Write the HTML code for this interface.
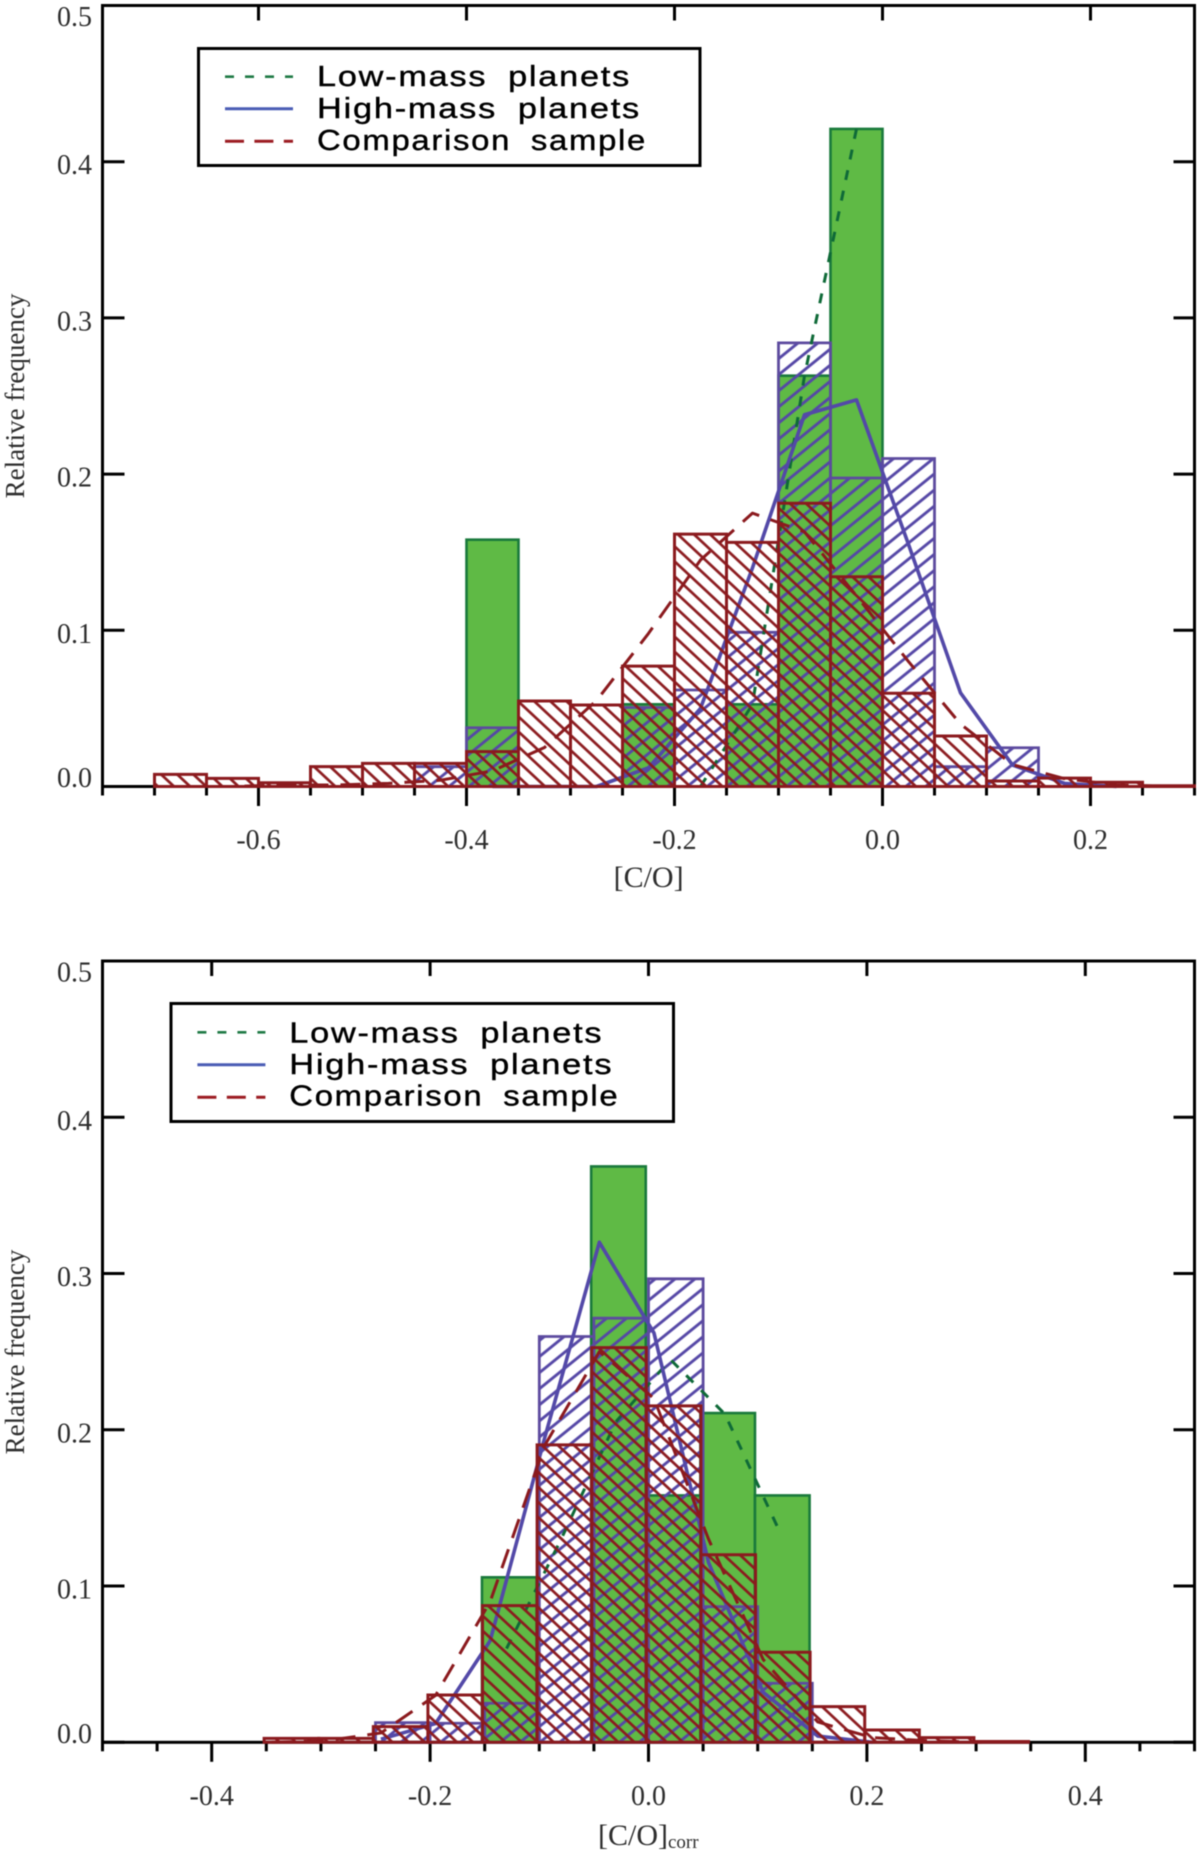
<!DOCTYPE html>
<html lang="en">
<head>
<meta charset="utf-8">
<title>C/O histograms</title>
<style>
  html, body { margin: 0; padding: 0; background: #fff; }
  #figure { display: block; width: 1200px; height: 1852px; filter: blur(0.55px); }
  .tick-text { font-family: "Liberation Serif", serif; font-size: 28px; fill: #2e2e2e; }
  .axis-title { font-family: "Liberation Serif", serif; font-size: 30px; fill: #2e2e2e; }
  .legend-text { font-family: "Liberation Sans", sans-serif; font-size: 29px; fill: #000; stroke: #000; stroke-width: 0.4px; letter-spacing: 1.5px; word-spacing: 8px; }
</style>
</head>
<body>
<svg id="figure" xmlns="http://www.w3.org/2000/svg" width="1200" height="1852" viewBox="0 0 1200 1852">
  <defs>
    <pattern id="hatch-red" patternUnits="userSpaceOnUse" width="11" height="11" patternTransform="rotate(43)">
      <line x1="0" y1="5.5" x2="11" y2="5.5" stroke="#8b1a1e" stroke-width="2.7"></line>
    </pattern>
    <pattern id="hatch-blue" patternUnits="userSpaceOnUse" width="12.5" height="12.5" patternTransform="rotate(-39)">
      <line x1="0" y1="6.25" x2="12.5" y2="6.25" stroke="#5547a6" stroke-width="2.9"></line>
    </pattern>
  </defs>
  <rect x="0" y="0" width="1200" height="1852" fill="#fff"></rect>

  <g id="panel-top"></g>
  <g id="panel-bottom"></g>

  <g>
    <rect x="198.5" y="48.5" width="501.5" height="117" fill="#fff" stroke="#000" stroke-width="3"></rect>
    <line x1="225" x2="293" y1="76.7" y2="76.7" stroke="#1f7a45" stroke-width="2.6" stroke-dasharray="9 11"></line>
    <line x1="225" x2="293" y1="108.7" y2="108.7" stroke="#4a5cb5" stroke-width="3"></line>
    <line x1="225" x2="293" y1="141.3" y2="141.3" stroke="#9c1c22" stroke-width="3" stroke-dasharray="19 10.4"></line>
    <text class="legend-text" x="317" y="86" textLength="314" lengthAdjust="spacingAndGlyphs">Low-mass planets</text>
    <text class="legend-text" x="317" y="118" textLength="324" lengthAdjust="spacingAndGlyphs">High-mass planets</text>
    <text class="legend-text" x="317" y="150" textLength="330" lengthAdjust="spacingAndGlyphs">Comparison sample</text>
  </g>

  <g>
    <rect x="171" y="1003.5" width="502.5" height="118" fill="#fff" stroke="#000" stroke-width="3"></rect>
    <line x1="197.4" x2="265.4" y1="1032.3" y2="1032.3" stroke="#1f7a45" stroke-width="2.6" stroke-dasharray="9 11"></line>
    <line x1="197.4" x2="265.4" y1="1064.7" y2="1064.7" stroke="#4a5cb5" stroke-width="3"></line>
    <line x1="197.4" x2="265.4" y1="1097.3" y2="1097.3" stroke="#9c1c22" stroke-width="3" stroke-dasharray="19 10.4"></line>
    <text class="legend-text" x="289.3" y="1042.3" textLength="314" lengthAdjust="spacingAndGlyphs">Low-mass planets</text>
    <text class="legend-text" x="289.3" y="1074" textLength="324" lengthAdjust="spacingAndGlyphs">High-mass planets</text>
    <text class="legend-text" x="289.3" y="1105.7" textLength="330" lengthAdjust="spacingAndGlyphs">Comparison sample</text>
  </g>

  <text class="axis-title" x="648.6" y="887" text-anchor="middle">[C/O]</text>
  <text class="axis-title" transform="translate(24,396) rotate(-90)" text-anchor="middle" style="font-size:27px">Relative frequency</text>
  <text class="axis-title" x="598" y="1845">[C/O]<tspan font-size="19" dy="3">corr</tspan></text>
  <text class="axis-title" transform="translate(24,1352) rotate(-90)" text-anchor="middle" style="font-size:27px">Relative frequency</text>
</svg>

<script>
// ---- shared axis data ----
const yTickValues = [0, 0.1, 0.2, 0.3, 0.4, 0.5];
const yTickLabels = ['0.0', '0.1', '0.2', '0.3', '0.4', '0.5'];

// ---- top panel data ----
const topXTickValues = [-0.6, -0.4, -0.2, 0, 0.2];
const topXTickLabels = ['-0.6', '-0.4', '-0.2', '0.0', '0.2'];

const topGreenBins = [-0.4, -0.25, -0.15, -0.1, -0.05];
const topGreenValues = [0.158, 0.0526, 0.0526, 0.263, 0.421];

const topBlueBins = [-0.45, -0.4, -0.35, -0.3, -0.25, -0.2, -0.15, -0.1, -0.05, 0, 0.05, 0.1];
const topBlueValues = [0.0127, 0.0376, 0, 0, 0.0506, 0.0618, 0.0987, 0.284, 0.1975, 0.21, 0.0127, 0.0248];

const topRedBins = [-0.7, -0.65, -0.6, -0.55, -0.5, -0.45, -0.4, -0.35, -0.3, -0.25, -0.2, -0.15, -0.1, -0.05, 0, 0.05, 0.1, 0.15, 0.2, 0.25];
const topRedValues = [0.0078, 0.0052, 0.0024, 0.0127, 0.0148, 0.0148, 0.0223, 0.0547, 0.0522, 0.0771, 0.1616, 0.1563, 0.1813, 0.1343, 0.0597, 0.0323, 0.0035, 0.0054, 0.0027, 0.0005];

const topGreenLineX = [-0.175, -0.125, -0.075, -0.025];
const topGreenLineY = [0, 0.0526, 0.263, 0.421];

const topBlueLineX = [-0.375, -0.325, -0.275, -0.225, -0.175, -0.125, -0.075, -0.025, 0.025, 0.075, 0.125, 0.175, 0.225];
const topBlueLineY = [0, 0, 0, 0.012, 0.05, 0.14, 0.238, 0.2475, 0.155, 0.06, 0.0137, 0.002, 0];

const topRedLineX = [-0.675, -0.625, -0.575, -0.525, -0.475, -0.425, -0.375, -0.325, -0.275, -0.225, -0.175, -0.125, -0.075, -0.025, 0.025, 0.075, 0.125, 0.175, 0.225, 0.275];
const topRedLineY = [0, 0, 0.001, 0.001, 0.002, 0.004, 0.01, 0.025, 0.055, 0.098, 0.145, 0.175, 0.163, 0.122, 0.08, 0.04, 0.014, 0.005, 0.001, 0];

// ---- bottom panel data ----
const bottomXTickValues = [-0.4, -0.2, 0, 0.2, 0.4];
const bottomXTickLabels = ['-0.4', '-0.2', '0.0', '0.2', '0.4'];

const bottomGreenBins = [-0.15, -0.05, 0, 0.05, 0.1];
const bottomGreenValues = [0.1056, 0.3685, 0.158, 0.2107, 0.158];

const bottomBlueBins = [-0.25, -0.2, -0.15, -0.1, -0.05, 0, 0.05, 0.1];
const bottomBlueValues = [0.0126, 0.0122, 0.025, 0.2597, 0.2714, 0.2966, 0.0868, 0.0378];

const bottomRedBins = [-0.35, -0.3, -0.25, -0.2, -0.15, -0.1, -0.05, 0, 0.05, 0.1, 0.15, 0.2, 0.25, 0.3];
const bottomRedValues = [0.0025, 0.0025, 0.01, 0.0303, 0.0875, 0.1903, 0.2526, 0.2153, 0.12, 0.0576, 0.0228, 0.0079, 0.003, 0.0005];

const bottomGreenLineX = [-0.13, -0.08, -0.03, 0.02, 0.07, 0.12];
const bottomGreenLineY = [0.06, 0.13, 0.205, 0.245, 0.21, 0.135];

const bottomBlueLineX = [-0.245, -0.195, -0.145, -0.095, -0.045, 0.005, 0.055, 0.105, 0.155, 0.205];
const bottomBlueLineY = [0.002, 0.012, 0.065, 0.195, 0.32, 0.262, 0.115, 0.032, 0.004, 0];

const bottomRedLineX = [-0.345, -0.295, -0.245, -0.195, -0.145, -0.095, -0.045, 0.005, 0.055, 0.105, 0.155, 0.205, 0.255, 0.305];
const bottomRedLineY = [0, 0.001, 0.006, 0.03, 0.09, 0.19, 0.25, 0.22, 0.13, 0.053, 0.013, 0.003, 0.001, 0];

// ---- drawing ----
const SVG_NS = 'http://www.w3.org/2000/svg';
const BIN_WIDTH = 0.05;

function make(parent, tag, attrs) {
  const el = document.createElementNS(SVG_NS, tag);
  for (const key in attrs) el.setAttribute(key, attrs[key]);
  parent.appendChild(el);
  return el;
}

function drawAxes(g, p, xTickValues, xTickLabels, prefix) {
  const frame = make(g, 'rect', { x: p.left, y: p.top, width: p.right - p.left, height: p.bottom - p.top, fill: 'none', stroke: '#000', 'stroke-width': 3 });
  
  

  // minor and major x ticks below the axis, major only along the top
  const count = Math.round((p.xMax - p.xMin) / BIN_WIDTH);
  for (let i = 0; i <= count; i++) {
    const v = p.xMin + i * BIN_WIDTH;
    const isMajor = xTickValues.some(function (t) { return Math.abs(t - v) < 1e-6; });
    const tick = make(g, 'line', { x1: p.x(v), x2: p.x(v), y1: p.bottom, y2: p.bottom + (isMajor ? 19.5 : 9), stroke: '#000', 'stroke-width': 3 });
    
    
  }
  xTickValues.forEach(function (v, i) {
    const topTick = make(g, 'line', { x1: p.x(v), x2: p.x(v), y1: p.top, y2: p.top + 15, stroke: '#000', 'stroke-width': 3 });
    
    
    const label = make(g, 'text', { class: 'tick-text', x: p.x(v), y: p.bottom + 62.5, 'text-anchor': 'middle' });
    
    
    label.textContent = xTickLabels[i];
  });

  yTickValues.forEach(function (v, i) {
    const y = p.y(v);
    const leftTick = make(g, 'line', { x1: p.left, x2: p.left + 22, y1: y, y2: y, stroke: '#000', 'stroke-width': 3 });
    
    
    const rightTick = make(g, 'line', { x1: p.right, x2: p.right - 21, y1: y, y2: y, stroke: '#000', 'stroke-width': 3 });
    
    
    const offset = i === 0 ? 0.5 : (i === yTickValues.length - 1 ? 20.5 : 12.5);
    const label = make(g, 'text', { class: 'tick-text', x: 92, y: y + offset, 'text-anchor': 'end' });
    
    
    label.textContent = yTickLabels[i];
  });
}

function drawBars(g, p, bins, values, style, shift, name) {
  bins.forEach(function (start, i) {
    const x0 = p.x(start + shift);
    const x1 = p.x(start + shift + BIN_WIDTH);
    const y0 = p.y(0);
    const y1 = p.y(values[i]);
    const bar = make(g, 'path', { d: 'M' + x0 + ' ' + y0 + 'V' + y1 + 'H' + x1 + 'V' + y0 + 'Z', fill: style.fill, stroke: style.stroke, 'stroke-width': style.width });
    
    
  });
}

function drawLine(g, p, xs, ys, style, name) {
  const points = xs.map(function (v, i) { return p.x(v) + ',' + p.y(ys[i]); }).join(' ');
  const line = make(g, 'polyline', { points: points, fill: 'none', stroke: style.stroke, 'stroke-width': style.width, 'stroke-linejoin': 'round', 'stroke-dasharray': style.dash || 'none' });
  
  
}

const greenBarStyle = { fill: '#5fba45', stroke: '#1a7a3c', width: 2.6 };
const blueBarStyle = { fill: 'url(#hatch-blue)', stroke: '#5d4b9f', width: 2.8 };
const redBarStyle = { fill: 'url(#hatch-red)', stroke: '#8b1a1e', width: 3 };
const greenLineStyle = { stroke: '#0f6a38', width: 3, dash: '10 11' };
const blueLineStyle = { stroke: '#5349a8', width: 3.6 };
const redLineStyle = { stroke: '#8b1a1e', width: 3, dash: '20 12' };

function makePanel(left, right, top, bottom, xMin, xMax) {
  return {
    left: left, right: right, top: top, bottom: bottom, xMin: xMin, xMax: xMax,
    x: function (v) { return left + (v - xMin) / (xMax - xMin) * (right - left); },
    y: function (v) { return bottom - v / 0.5 * (bottom - top); }
  };
}

const topPanel = makePanel(102.5, 1194.5, 5.5, 786.5, -0.75, 0.3);
const bottomPanel = makePanel(102.5, 1194.5, 961, 1742.3, -0.5, 0.5);

const gTop = document.getElementById('panel-top');
drawAxes(gTop, topPanel, topXTickValues, topXTickLabels, 'top');
drawBars(gTop, topPanel, topGreenBins, topGreenValues, greenBarStyle, 0, 'top-low-mass-bar');
drawBars(gTop, topPanel, topBlueBins, topBlueValues, blueBarStyle, 0, 'top-high-mass-bar');
drawLine(gTop, topPanel, topGreenLineX, topGreenLineY, greenLineStyle, 'top-low-mass-curve');
drawLine(gTop, topPanel, topBlueLineX, topBlueLineY, blueLineStyle, 'top-high-mass-curve');
drawBars(gTop, topPanel, topRedBins, topRedValues, redBarStyle, 0, 'top-comparison-bar');
drawLine(gTop, topPanel, topRedLineX, topRedLineY, redLineStyle, 'top-comparison-curve');

const gBottom = document.getElementById('panel-bottom');
drawAxes(gBottom, bottomPanel, bottomXTickValues, bottomXTickLabels, 'bottom');
drawBars(gBottom, bottomPanel, bottomGreenBins, bottomGreenValues, greenBarStyle, -0.0025, 'bottom-low-mass-bar');
drawBars(gBottom, bottomPanel, bottomBlueBins, bottomBlueValues, blueBarStyle, 0, 'bottom-high-mass-bar');
drawLine(gBottom, bottomPanel, bottomGreenLineX, bottomGreenLineY, greenLineStyle, 'bottom-low-mass-curve');
drawLine(gBottom, bottomPanel, bottomBlueLineX, bottomBlueLineY, blueLineStyle, 'bottom-high-mass-curve');
drawBars(gBottom, bottomPanel, bottomRedBins, bottomRedValues, redBarStyle, -0.002, 'bottom-comparison-bar');
drawLine(gBottom, bottomPanel, bottomRedLineX, bottomRedLineY, redLineStyle, 'bottom-comparison-curve');
</script>
</body>
</html>
